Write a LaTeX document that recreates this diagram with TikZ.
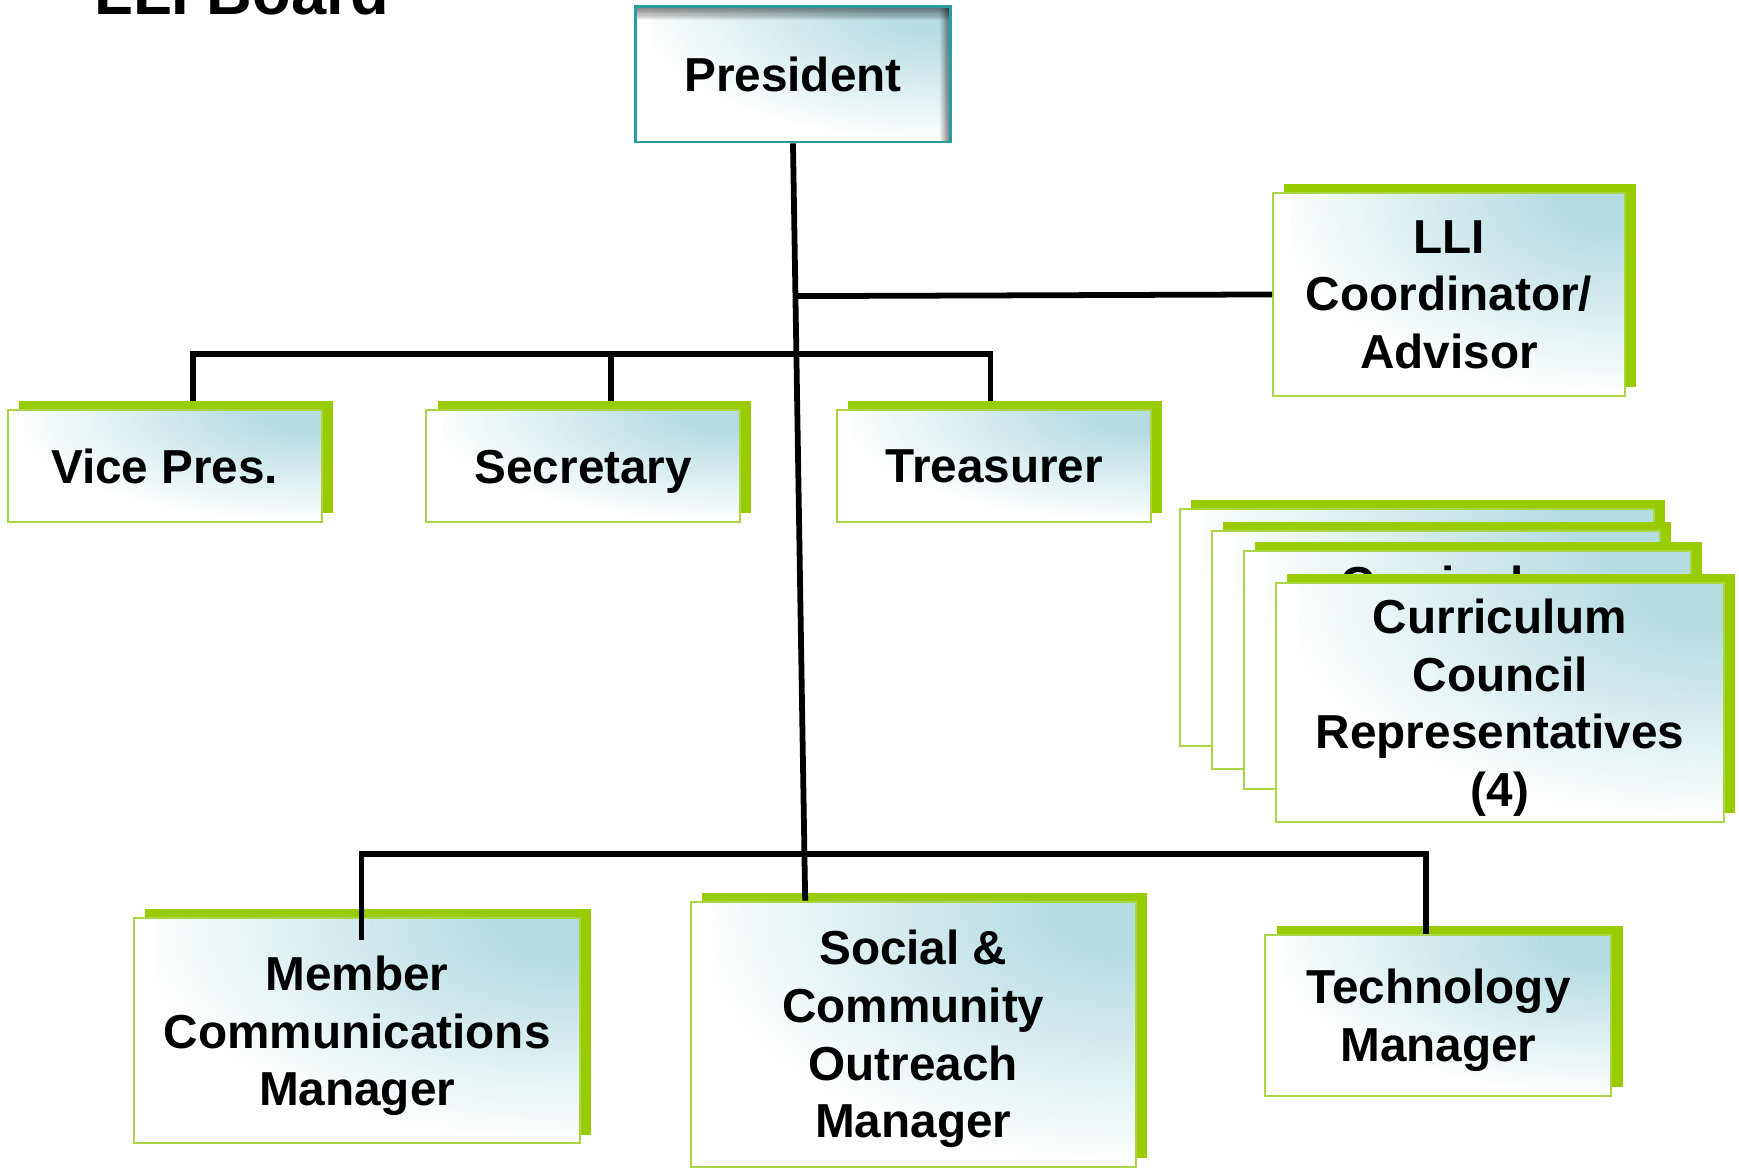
\documentclass[tikz,border=0pt]{standalone}
\usepackage{fontspec}
\setmainfont{Liberation Sans}
\usetikzlibrary{shadows,calc}
\definecolor{shadeg}{RGB}{153,204,0}
\definecolor{edgeg}{RGB}{170,214,70}
\definecolor{tealc}{RGB}{180,220,225}
\definecolor{presb}{RGB}{40,158,160}
\pgfdeclareradialshading{cornerglow}{\pgfpoint{0bp}{0bp}}{color(0bp)=(tealc); color(4bp)=(tealc); color(25bp)=(white); color(50bp)=(white)}
\newcommand\glowfill{%
  \shade[shading=cornerglow]
    ($(path picture bounding box.north east)!-0.95!(path picture bounding box.south west)$)
    rectangle
    ($(path picture bounding box.north east)!0.95!(path picture bounding box.south west)$);}
\newcommand\presinner{%
  \foreach \i in {1,...,12}{%
    \fill[black, opacity=0.05] (path picture bounding box.north west) rectangle ([yshift=-\i pt]path picture bounding box.north east);
    \fill[black, opacity=0.05] ([xshift=-0.75*\i pt]path picture bounding box.north east) rectangle (path picture bounding box.south east);
  }}
\tikzset{
  boxtext/.style={inner sep=0pt, align=center, text depth=0pt, font=\fontsize{43}{52}\selectfont\bfseries},
  orgbox/.style={boxtext, fill=white, path picture={\glowfill}, draw=edgeg, line width=1.8pt,
    general shadow={fill=shadeg, shadow xshift=10pt, shadow yshift=8pt}},
  presbox/.style={boxtext, fill=white, path picture={\glowfill\presinner}, draw=presb, line width=2.5pt},
  link/.style={line width=5.2pt, black},
}
\begin{document}
\begin{tikzpicture}[x=1pt, y=-1pt]
\useasboundingbox (0,0) rectangle (1568,1054);
\clip (0,0) rectangle (1568,1054);
\fill[white] (0,0) rectangle (1568,1054);

% title
\node[anchor=base west, inner sep=0pt, font=\fontsize{57}{60}\selectfont\bfseries] (title) at (85,13) {LLI Board};

% boxes
\node[presbox, minimum width=284pt, minimum height=122pt] (pres) at (715,67) {President};
\node[orgbox, minimum width=317pt, minimum height=183pt] (lli) at (1306.5,265.5) {LLI\\Coordinator/\\Advisor};
\node[orgbox, minimum width=283pt, minimum height=101pt] (vp) at (148.5,420.5) {Vice Pres.};
\node[orgbox, minimum width=283pt, minimum height=101pt] (sec) at (526,420.5) {Secretary};
\node[orgbox, minimum width=283pt, minimum height=101pt] (tre) at (896.5,420.5) {Treasurer};

\node[orgbox, minimum width=427pt, minimum height=214pt] (ccA) at (1277.5,566) {};
\node[orgbox, minimum width=404pt, minimum height=214pt] (ccB) at (1295,586) {};
\node[orgbox, minimum width=403pt, minimum height=215pt] (ccC) at (1323.5,604) {Curriculum\\Council\\Representatives\\(4)};
\node[orgbox, minimum width=404pt, minimum height=215pt] (ccD) at (1352.6,633.5) {Curriculum\\Council\\Representatives\\(4)};

\node[orgbox, minimum width=402pt, minimum height=203pt] (mem) at (322,929.5) {Member\\Communications\\Manager};
\node[orgbox, minimum width=401pt, minimum height=239pt] (soc) at (823.5,932.5) {Social \&\\Community\\Outreach\\Manager};
\node[orgbox, minimum width=312pt, minimum height=145pt] (tech) at (1297,915.5) {Technology\\Manager};

% connector points
\coordinate (sTop) at (726,812);
\coordinate (jL) at (718,267);
\coordinate (t1) at (174,319);
\coordinate (t2) at (551,319);
\coordinate (t3) at (893,319);
\coordinate (vpTop) at (174,362);
\coordinate (secTop) at (551,362);
\coordinate (treTop) at (893,362);
\coordinate (u1) at (326,770);
\coordinate (u2) at (1286,770);
\coordinate (memEnd) at (326,848);

% connectors
\draw[link] (pres.south) -- (sTop);
\draw[link] (jL) -- (lli.west);
\draw[link] (vpTop) -- (t1) -- (t3) -- (treTop);
\draw[link] (t2) -- (secTop);
\draw[link] (memEnd) -- (u1) -- (u2) -- (tech.north -| u2);
\end{tikzpicture}
\end{document}
